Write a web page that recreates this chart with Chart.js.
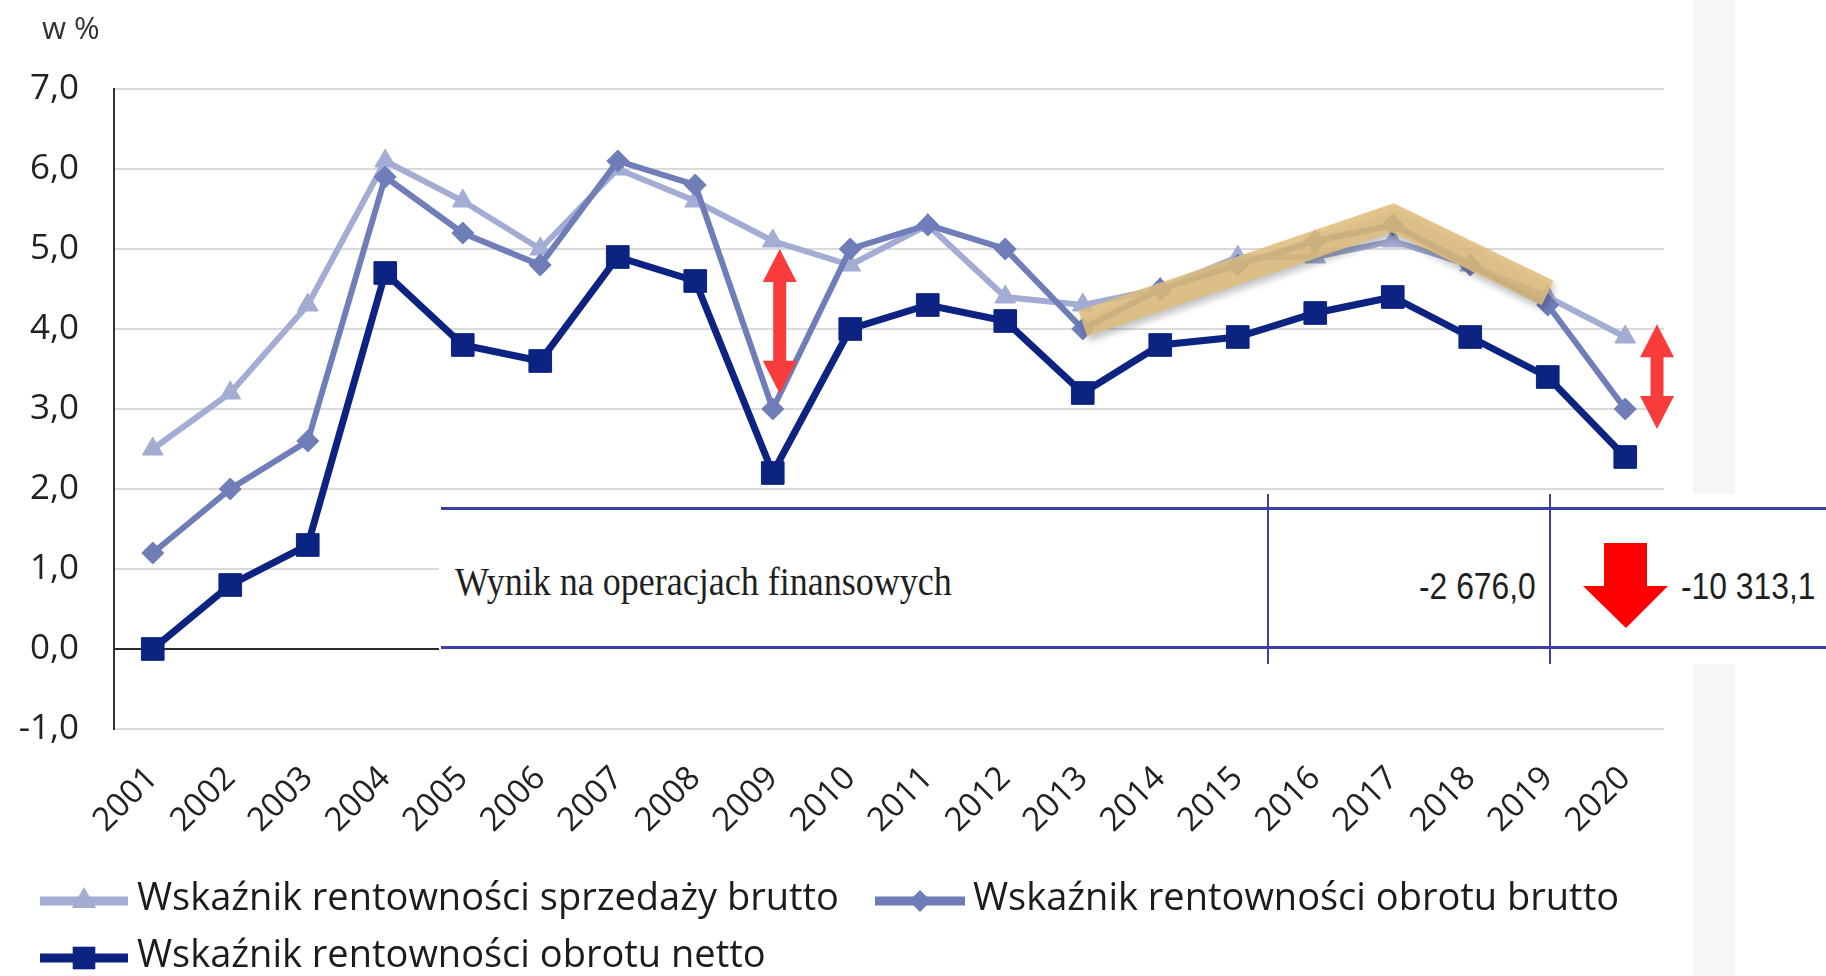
<!DOCTYPE html>
<html lang="pl">
<head>
<meta charset="utf-8">
<title>Wskaźniki rentowności 2001–2020</title>
<script src="https://cdn.jsdelivr.net/npm/chart.js@4.4.1/dist/chart.umd.min.js"></script>
<style>
  html, body { margin: 0; padding: 0; background: #fff; overflow: hidden; }
  #wrap { position: relative; width: 1826px; height: 976px; }
  #side { position: absolute; left: 1693px; top: 0; width: 42px; height: 976px; background: #f6f6f6; }
  #chart { position: absolute; left: 0; top: 0; }
  /* pasted table fragment */
  #tbl { position: absolute; left: 439px; top: 494px; width: 1387px; height: 170px; background: #fff; }
  .hl { position: absolute; left: 2px; right: 0; height: 3px; background: #3d40a8; }
  .vl { position: absolute; top: 0; bottom: 0; width: 2px; background: #3d40a8; }
  .cell { position: absolute; white-space: nowrap; color: #1f1f1f; line-height: 1; }
  #lbl { left: 16px; top: 87px; font: 40px 'Liberation Serif', serif;
         transform: translateY(-50%) scaleX(0.9); transform-origin: left center; }
  #v1 { right: 290px; top: 93px; font: 37px 'Liberation Sans', sans-serif;
        transform: translateY(-50%) scaleX(0.86); transform-origin: right center; }
  #v2 { left: 1242px; top: 93px; font: 37px 'Liberation Sans', sans-serif;
        transform: translateY(-50%) scaleX(0.86); transform-origin: left center; }
  #tbl svg { position: absolute; left: 0; top: 0; }
</style>
</head>
<body>
<div id="wrap">
  <div id="side"></div>
  <canvas id="chart" width="1826" height="976"></canvas>
  <div id="tbl">
    <div class="hl" style="top:13px"></div>
    <div class="hl" style="top:152px"></div>
    <div class="vl" style="left:828px"></div>
    <div class="vl" style="left:1110px"></div>
    <svg width="1387" height="170"><polygon points="1165,49 1208,49 1208,92 1229,92 1187,134 1144,92 1165,92" fill="#ff0000"/></svg>
    <div class="cell" id="lbl">Wynik na operacjach finansowych</div>
    <div class="cell" id="v1">-2 676,0</div>
    <div class="cell" id="v2">-10 313,1</div>
  </div>
</div>
<script>
// ---- DATA (w %) ----
const years = ['2001', '2002', '2003', '2004', '2005', '2006', '2007', '2008', '2009', '2010',
               '2011', '2012', '2013', '2014', '2015', '2016', '2017', '2018', '2019', '2020'];
const sprzedazyBrutto = [2.5, 3.2, 4.3, 6.1, 5.6, 5.0, 6.0, 5.6, 5.1, 4.8,
                         5.3, 4.4, 4.3, 4.5, 4.9, 4.9, 5.1, 4.8, 4.4, 3.9];
const obrotuBrutto = [1.2, 2.0, 2.6, 5.9, 5.2, 4.8, 6.1, 5.8, 3.0, 5.0,
                      5.3, 5.0, 4.0, 4.5, 4.8, 5.1, 5.3, 4.8, 4.3, 3.0];
const obrotuNetto = [0.0, 0.8, 1.3, 4.7, 3.8, 3.6, 4.9, 4.6, 2.2, 4.0,
                     4.3, 4.1, 3.2, 3.8, 3.9, 4.2, 4.4, 3.9, 3.4, 2.4];
// highlighted stretch 2013 -> 2017 -> 2019 (drawn as a wide band)
const highlight = [null, null, null, null, null, null, null, null, null, null,
                   null, null, 4.07, null, null, null, 5.39, null, 4.45, null];
const seriesNames = ['Wskaźnik rentowności sprzedaży brutto',
                     'Wskaźnik rentowności obrotu brutto',
                     'Wskaźnik rentowności obrotu netto'];
// red double arrows, in data units (category index, from value, to value)
const arrowAt = [8.09, 19.41];
const arrowFrom = [5.0, 4.06];
const arrowTo = [3.19, 2.75];

const FONT = "'Open Sans', 'Noto Sans', sans-serif";
const C_LIGHT = '#a3acd2';
const C_MID = '#6f7db8';
const C_NAVY = '#0c2381';

Chart.defaults.font.family = FONT;
Chart.defaults.color = '#222';

function marker(ctx, style, x, y, r) {
    ctx.beginPath();
    if (style === 'triangle') {
        ctx.moveTo(x, y - r);
        ctx.lineTo(x + r * 0.866, y + r / 2);
        ctx.lineTo(x - r * 0.866, y + r / 2);
    } else if (style === 'rectRot') {
        ctx.moveTo(x, y - r);
        ctx.lineTo(x + r, y);
        ctx.lineTo(x, y + r);
        ctx.lineTo(x - r, y);
    } else {
        const s = r * Math.SQRT1_2;
        ctx.rect(x - s, y - s, 2 * s, 2 * s);
    }
    ctx.closePath();
    ctx.fill();
}

// legend slots: swatch start, swatch length, text start
const legendSlots = [
    { x: 40, y: 901, w: 88, tx: 137 },
    { x: 875, y: 901, w: 90, tx: 973 },
    { x: 40, y: 958, w: 88, tx: 137 }
];

const extras = {
    id: 'extras',
    beforeDatasetDraw(chart, args) {
        if (chart.data.datasets[args.index].isBand) {
            const ctx = chart.ctx;
            ctx.save();
            ctx.shadowColor = 'rgba(0,0,0,0.28)';
            ctx.shadowBlur = 7;
            ctx.shadowOffsetX = 2;
            ctx.shadowOffsetY = 5;
        }
    },
    afterDatasetDraw(chart, args) {
        if (chart.data.datasets[args.index].isBand) chart.ctx.restore();
    },
    afterDatasetsDraw(chart) {
        const ctx = chart.ctx;
        const xs = chart.scales.x, ys = chart.scales.y;
        ctx.save();
        ctx.fillStyle = '#f83b3b';
        arrowAt.forEach((a, i) => {
            const cx = xs.getPixelForValue(a);
            const t = ys.getPixelForValue(arrowFrom[i]);
            const b = ys.getPixelForValue(arrowTo[i]);
            const hw = 17, sw = 6.5, hl = 33;
            ctx.beginPath();
            ctx.moveTo(cx, t);
            ctx.lineTo(cx + hw, t + hl);
            ctx.lineTo(cx + sw, t + hl);
            ctx.lineTo(cx + sw, b - hl);
            ctx.lineTo(cx + hw, b - hl);
            ctx.lineTo(cx, b);
            ctx.lineTo(cx - hw, b - hl);
            ctx.lineTo(cx - sw, b - hl);
            ctx.lineTo(cx - sw, t + hl);
            ctx.lineTo(cx - hw, t + hl);
            ctx.closePath();
            ctx.fill();
        });
        ctx.restore();
    },
    afterDraw(chart) {
        const ctx = chart.ctx;
        ctx.save();
        // unit label
        ctx.fillStyle = '#333';
        ctx.font = '31px ' + FONT;
        ctx.textAlign = 'left';
        ctx.textBaseline = 'middle';
        ctx.fillText('w %', 42, 30);
        // legend
        const items = chart.data.datasets.filter(d => !d.isBand);
        items.forEach((d, i) => {
            const s = legendSlots[i];
            ctx.strokeStyle = d.borderColor;
            ctx.fillStyle = d.borderColor;
            ctx.lineWidth = 9;
            ctx.lineCap = 'butt';
            ctx.beginPath();
            ctx.moveTo(s.x, s.y);
            ctx.lineTo(s.x + s.w, s.y);
            ctx.stroke();
            const r = d.pointStyle === 'rect' ? 16 : (d.pointStyle === 'triangle' ? 14 : 11);
            marker(ctx, d.pointStyle, s.x + s.w / 2, s.y, r);
            ctx.fillStyle = '#1c1c1c';
            ctx.font = '38px ' + FONT;
            ctx.fillText(d.label, s.tx, s.y - 2);
        });
        ctx.restore();
    }
};

new Chart(document.getElementById('chart'), {
    type: 'line',
    data: {
        labels: years,
        datasets: [
            {
                label: seriesNames[0],
                data: sprzedazyBrutto,
                borderColor: C_LIGHT,
                backgroundColor: C_LIGHT,
                borderWidth: 6,
                pointStyle: 'triangle',
                pointRadius: 12,
                pointBorderWidth: 1,
                tension: 0,
                order: 3
            },
            {
                label: seriesNames[1],
                data: obrotuBrutto,
                borderColor: C_MID,
                backgroundColor: C_MID,
                borderWidth: 6,
                pointStyle: 'rectRot',
                pointRadius: 11,
                pointBorderWidth: 1,
                tension: 0,
                order: 2
            },
            {
                label: seriesNames[2],
                data: obrotuNetto,
                borderColor: C_NAVY,
                backgroundColor: C_NAVY,
                borderWidth: 7,
                pointStyle: 'rect',
                pointRadius: 16,
                pointBorderWidth: 1,
                tension: 0,
                order: 1
            },
            {
                label: 'highlight',
                isBand: true,
                data: highlight,
                borderColor: 'rgba(222,190,125,0.86)',
                borderWidth: 27,
                borderCapStyle: 'butt',
                borderJoinStyle: 'miter',
                pointRadius: 0,
                spanGaps: true,
                order: 0
            }
        ]
    },
    options: {
        responsive: false,
        maintainAspectRatio: false,
        animation: false,
        devicePixelRatio: 1,
        events: [],
        layout: { padding: { left: 0, right: 162, top: 89, bottom: 0 } },
        plugins: {
            legend: { display: false },
            tooltip: { enabled: false }
        },
        scales: {
            x: {
                offset: true,
                grid: { display: false, drawTicks: false },
                border: { display: false },
                ticks: {
                    autoSkip: false,
                    minRotation: 45,
                    maxRotation: 45,
                    padding: 30,
                    color: '#222',
                    font: { size: 33 }
                },
                afterFit: s => { s.height = 247; }
            },
            y: {
                min: -1,
                max: 7,
                ticks: {
                    stepSize: 1,
                    padding: 35,
                    color: '#222',
                    font: { size: 35 },
                    callback: v => v.toFixed(1).replace('.', ',')
                },
                grid: {
                    color: ctx => ctx.tick && ctx.tick.value === 0 ? '#2b2b2b' : '#dadada',
                    lineWidth: 2,
                    drawTicks: false
                },
                border: { display: true, color: '#333', width: 2 },
                afterFit: s => { s.width = 114; }
            }
        }
    },
    plugins: [extras]
});
</script>
</body>
</html>
